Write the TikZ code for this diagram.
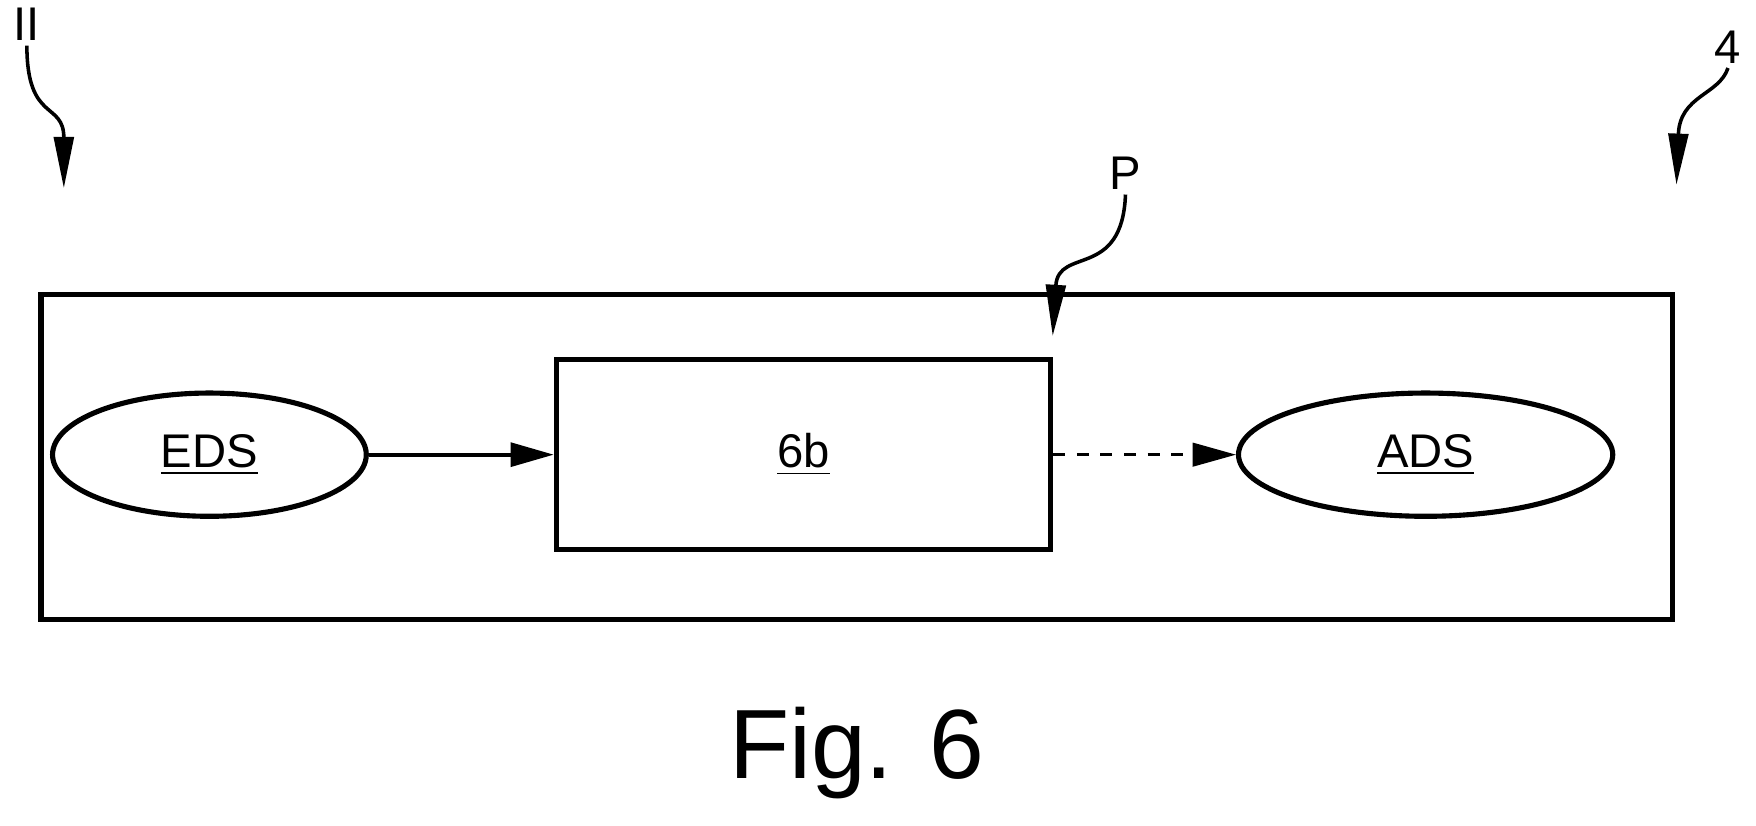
\documentclass[tikz,border=0pt]{standalone}
\usepackage{fontspec}
\setmainfont{Liberation Sans}
\usetikzlibrary{shapes.geometric,arrows.meta}
\begin{document}
\begin{tikzpicture}[x=0.01cm,y=-0.01cm,
  thick line/.style={line width=1.3pt},
  lbl/.style={font=\fontsize{12}{14}\selectfont},
  ref/.style={line width=0.9pt,-{Triangle[length=13pt,width=5pt]}},
  flow/.style={line width=1.1pt,-{Triangle[length=11pt,width=6pt]}}]
\useasboundingbox (0,0) rectangle (1568,737);
\node[draw,thick line,rectangle,inner sep=0,minimum width=14.56cm,minimum height=2.9cm] (outer) at (765,408) {};
\node[draw,thick line,rectangle,minimum width=4.41cm,minimum height=1.7cm,lbl] (box) at (717.5,406) {\underline{6b}};
\node[draw,thick line,ellipse,minimum width=2.8cm,minimum height=1.1cm,inner sep=0,lbl] (eds) at (187,406) {\underline{EDS}};
\node[draw,thick line,ellipse,minimum width=3.34cm,minimum height=1.1cm,inner sep=0,lbl] (ads) at (1273,406) {\underline{ADS}};
\draw[flow] (eds) -- (box);
\draw[flow,line width=0.6pt,dashed] (box) -- (ads);
\node[lbl,inner sep=1pt] (l2) at (24,22) {II};
\node[lbl,inner sep=1pt] (l4) at (1543,42) {4};
\node[lbl,inner sep=1pt] (lp) at (1005,155) {P};
\coordinate (a2) at (57,168);
\coordinate (a4) at (1497,165);
\coordinate (ap) at (940,300);
\draw[ref] (l2.south) .. controls (24,110) and (57,90) .. (a2);
\draw[ref] (l4.south) .. controls (1535,85) and (1500,85) .. (a4);
\draw[ref] (lp.south) .. controls (1002,250) and (945,220) .. (ap);
\node[font=\fontsize{25}{30}\selectfont] (fig) at (765,672) {Fig. 6};
\end{tikzpicture}
\end{document}
